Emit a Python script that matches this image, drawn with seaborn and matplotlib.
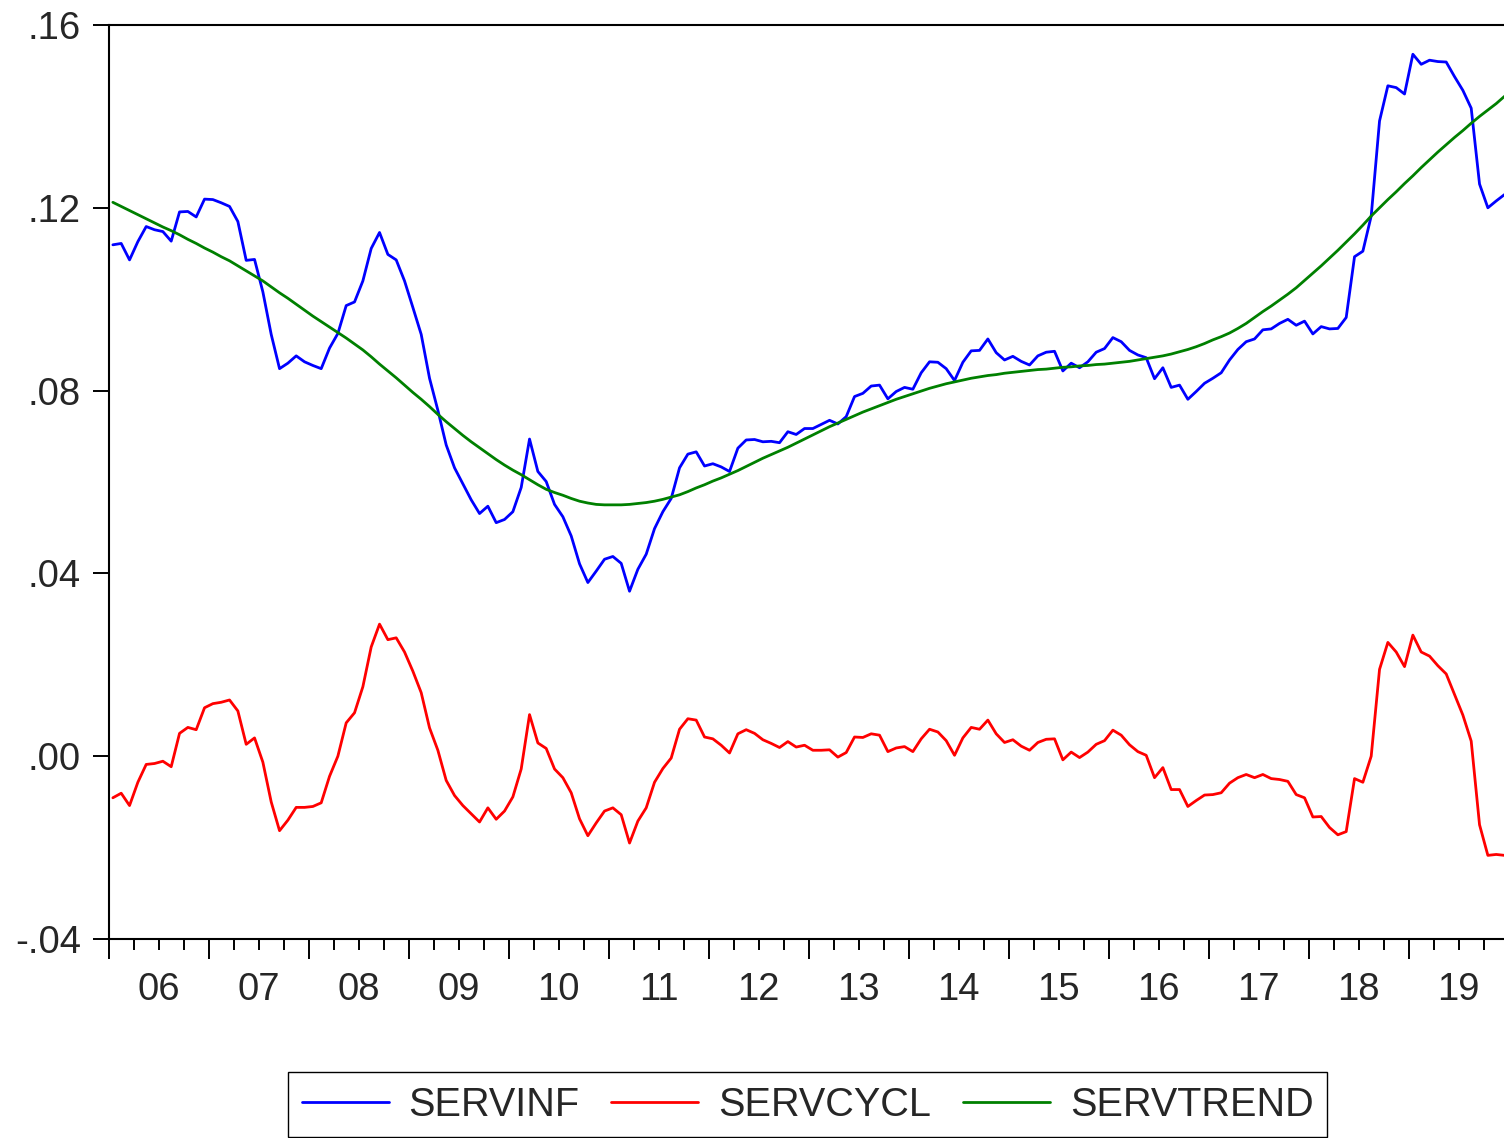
import numpy as np
import pandas as pd
import matplotlib
matplotlib.use("Agg")
import matplotlib.pyplot as plt
import seaborn as sns

# monthly series, 2006m01 .. 2019m12
servinf = [
    .1119, .1122, .1086, .1126, .1159, .1152, .1148, .1127, .1191, .1192, .1180, .1219,
    .1218, .1211, .1203, .1170, .1085, .1087, .1016, .0923, .0848, .0860, .0876, .0863,
    .0855, .0848, .0893, .0925, .0986, .0994, .1040, .1111, .1146, .1098, .1086, .1040,
    .0982, .0923, .0827, .0757, .0681, .0631, .0596, .0561, .0531, .0547, .0511, .0518,
    .0535, .0588, .0694, .0623, .0601, .0551, .0524, .0482, .0421, .0380, .0405, .0431,
    .0437, .0422, .0361, .0409, .0442, .0498, .0535, .0564, .0631, .0661, .0666, .0635,
    .0640, .0633, .0623, .0674, .0692, .0693, .0688, .0689, .0686, .0710, .0704, .0717,
    .0717, .0726, .0735, .0727, .0743, .0787, .0794, .0810, .0812, .0782, .0798, .0807,
    .0803, .0839, .0863, .0862, .0848, .0822, .0862, .0887, .0888, .0913, .0883, .0867,
    .0875, .0864, .0856, .0876, .0884, .0886, .0843, .0860, .0850, .0863, .0884, .0892,
    .0916, .0907, .0888, .0878, .0872, .0826, .0850, .0807, .0812, .0781, .0798, .0816,
    .0827, .0839, .0867, .0890, .0907, .0913, .0933, .0935, .0947, .0956, .0943, .0952,
    .0924, .0940, .0935, .0936, .0960, .1093, .1105, .1182, .1390, .1467, .1463, .1449,
    .1536, .1514, .1523, .1520, .1519, .1487, .1457, .1418, .1252, .1200, .1215, .1229,
]

servcycl = [
    -.0091, -.0081, -.0108, -.0057, -.0018, -.0016, -.0011, -.0023, .0050, .0063, .0058, .0106,
    .0115, .0118, .0123, .0099, .0026, .0040, -.0013, -.0100, -.0163, -.0140, -.0112, -.0112,
    -.0110, -.0102, -.0044, .0000, .0073, .0095, .0152, .0239, .0289, .0255, .0259, .0228,
    .0186, .0139, .0062, .0013, -.0053, -.0086, -.0108, -.0126, -.0144, -.0113, -.0138, -.0120,
    -.0089, -.0028, .0091, .0029, .0017, -.0028, -.0047, -.0080, -.0137, -.0174, -.0146, -.0120,
    -.0113, -.0128, -.0190, -.0142, -.0113, -.0057, -.0027, -.0004, .0059, .0082, .0079, .0042,
    .0038, .0024, .0007, .0049, .0058, .0050, .0036, .0028, .0019, .0032, .0020, .0024,
    .0013, .0013, .0014, -.0002, .0008, .0042, .0041, .0049, .0046, .0010, .0018, .0021,
    .0010, .0038, .0059, .0053, .0034, .0002, .0040, .0063, .0059, .0079, .0049, .0030,
    .0036, .0022, .0013, .0030, .0037, .0038, -.0008, .0009, -.0003, .0009, .0026, .0034,
    .0057, .0046, .0025, .0010, .0002, -.0047, -.0025, -.0073, -.0073, -.0110, -.0097, -.0085,
    -.0084, -.0080, -.0059, -.0047, -.0040, -.0047, -.0040, -.0049, -.0051, -.0055, -.0084, -.0091,
    -.0133, -.0132, -.0156, -.0172, -.0165, -.0049, -.0057, .0000, .0190, .0249, .0228, .0196,
    .0265, .0228, .0219, .0198, .0180, .0135, .0090, .0033, -.0150, -.0217, -.0215, -.0217,
]

servtrend = [
    .1212, .1203, .1194, .1185, .1176, .1167, .1158, .1150, .1141, .1131, .1122, .1112,
    .1103, .1093, .1084, .1073, .1062, .1051, .1040, .1027, .1014, .1002, .0989, .0976,
    .0963, .0951, .0939, .0927, .0915, .0902, .0889, .0874, .0858, .0843, .0828, .0812,
    .0796, .0781, .0765, .0748, .0732, .0717, .0702, .0688, .0675, .0662, .0649, .0637,
    .0626, .0616, .0605, .0594, .0584, .0577, .0571, .0564, .0558, .0554, .0551, .0550,
    .0550, .0550, .0551, .0553, .0555, .0558, .0562, .0567, .0572, .0579, .0587, .0594,
    .0602, .0609, .0617, .0625, .0634, .0643, .0652, .0660, .0668, .0676, .0685, .0694,
    .0703, .0712, .0721, .0729, .0737, .0745, .0753, .0760, .0767, .0774, .0781, .0787,
    .0793, .0799, .0805, .0810, .0815, .0819, .0823, .0827, .0830, .0833, .0835, .0838,
    .0840, .0842, .0844, .0846, .0847, .0849, .0851, .0852, .0854, .0855, .0857, .0858,
    .0860, .0862, .0864, .0867, .0870, .0873, .0876, .0880, .0885, .0890, .0896, .0903,
    .0911, .0918, .0926, .0936, .0947, .0960, .0973, .0985, .0998, .1011, .1025, .1041,
    .1057, .1073, .1090, .1107, .1125, .1143, .1162, .1182, .1200, .1218, .1235, .1253,
    .1270, .1288, .1305, .1322, .1338, .1354, .1369, .1385, .1400, .1414, .1428, .1444,
]

year_labels = ["06", "07", "08", "09", "10", "11", "12", "13", "14", "15", "16", "17", "18", "19"]
ytick_vals = [-0.04, 0.00, 0.04, 0.08, 0.12, 0.16]
ytick_labels = ["-.04", ".00", ".04", ".08", ".12", ".16"]

n = len(servinf)
df = pd.DataFrame({
    "t": np.arange(n) + 0.5,  # month centres
    "SERVINF": servinf,
    "SERVCYCL": servcycl,
    "SERVTREND": servtrend,
})

sns.set_style("white")
plt.rcParams["font.family"] = ["Liberation Sans", "DejaVu Sans"]

fig = plt.figure(figsize=(15.04, 11.38), dpi=100)
ax = fig.add_axes([108.7 / 1504, 199 / 1138, 1400 / 1504, 914 / 1138])

colors = {"SERVINF": "#0000FF", "SERVCYCL": "#FF0000", "SERVTREND": "#008000"}
for name in ["SERVINF", "SERVCYCL", "SERVTREND"]:
    sns.lineplot(data=df, x="t", y=name, color=colors[name], linewidth=2.0,
                 label=name, ax=ax)

ax.set_xlim(0, n)
ax.set_ylim(-0.04, 0.16)
ax.set_xlabel("")
ax.set_ylabel("")

# years: long ticks at boundaries, quarter ticks in between, label at mid-year
ax.set_xticks(np.arange(0, n + 1, 12))
ax.set_xticklabels([])
minor_pos, minor_lab = [], []
for k, lab in enumerate(year_labels):
    for q in (3, 6, 9):
        minor_pos.append(12 * k + q)
        minor_lab.append(lab if q == 6 else "")
ax.set_xticks(minor_pos, minor=True)
ax.set_xticklabels(minor_lab, minor=True, fontsize=27.5)

ax.set_yticks(ytick_vals)
ax.set_yticklabels(ytick_labels, fontsize=27.5)

ax.tick_params(axis="x", which="major", direction="out", length=14.5, width=1.4,
               color="black", bottom=True)
ax.tick_params(axis="x", which="minor", direction="out", length=8, width=1.4,
               color="black", pad=16, bottom=True)
ax.tick_params(axis="y", which="major", direction="out", length=11.5, width=1.4,
               color="black", pad=8.5, left=True)

for side in ["left", "bottom", "top", "right"]:
    ax.spines[side].set_color("black")
    ax.spines[side].set_linewidth(1.5)

ax.legend(loc="center", bbox_to_anchor=(807.5 / 1504, 33.5 / 1138),
          bbox_transform=fig.transFigure, ncol=3, fontsize=28.5, frameon=True,
          fancybox=False, edgecolor="black", framealpha=1, borderpad=0.35,
          handlelength=2.2, handletextpad=0.5, columnspacing=0.8)
ax.get_legend().get_frame().set_linewidth(1.0)

fig.savefig("out.png", dpi=100)
